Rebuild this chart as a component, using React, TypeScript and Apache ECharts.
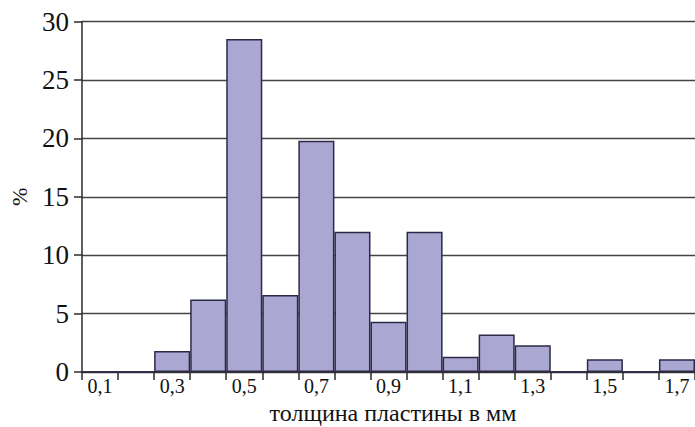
import React, { useEffect, useRef } from "react";
import * as echarts from "echarts";

const categories = ["0,1", "0,2", "0,3", "0,4", "0,5", "0,6", "0,7", "0,8", "0,9", "1,0", "1,1", "1,2", "1,3", "1,4", "1,5", "1,6", "1,7"];
const percentValues = [0, 0, 1.8, 6.2, 28.5, 6.6, 19.8, 12, 4.3, 12, 1.3, 3.2, 2.3, 0, 1.1, 0, 1.1];
const yTicks = [0, 5, 10, 15, 20, 25, 30];
const xTitle = "толщина пластины в мм";
const yTitle = "%";

const FONT = "Liberation Serif";

export default function App() {
  const ref = useRef<HTMLDivElement>(null);
  useEffect(() => {
    if (!ref.current) return;
    const chart = echarts.init(ref.current, undefined, { renderer: "svg" });
    chart.setOption({
      animation: false,
      backgroundColor: "#ffffff",
      textStyle: { fontFamily: FONT },
      grid: { left: 80, right: 0, top: 21.5, bottom: 55, containLabel: false },
      xAxis: {
        type: "category",
        data: categories,
        boundaryGap: true,
        axisLine: { show: true, lineStyle: { color: "#2a2a2a", width: 1.5 } },
        axisTick: { show: true, interval: 0, length: 8, inside: false, lineStyle: { color: "#2a2a2a", width: 1.5 } },
        axisLabel: { interval: 1, margin: 4, color: "#111", fontSize: 20, fontFamily: FONT },
        splitLine: { show: false },
      },
      yAxis: {
        type: "value",
        min: yTicks[0],
        max: yTicks[yTicks.length - 1],
        interval: 5,
        name: yTitle,
        nameLocation: "middle",
        nameRotate: 90,
        nameGap: 52,
        nameTextStyle: { color: "#111", fontSize: 22, fontFamily: FONT },
        axisLine: { show: true, lineStyle: { color: "#2a2a2a", width: 1.5 } },
        axisTick: { show: true, length: 8, lineStyle: { color: "#2a2a2a", width: 1.5 } },
        axisLabel: { margin: 13, color: "#111", fontSize: 27, fontFamily: FONT },
        splitLine: { show: true, lineStyle: { color: "#444", width: 1.4 } },
      },
      series: [
        {
          type: "bar",
          data: percentValues,
          barCategoryGap: "0%",
          itemStyle: { color: "#aaa7d2", borderColor: "#2c2a48", borderWidth: 1.5 },
        },
      ],
      graphic: [
        {
          type: "text",
          x: 393,
          y: 413,
          style: {
            text: xTitle,
            fill: "#111",
            fontSize: 24,
            fontFamily: FONT,
            textAlign: "center",
            textVerticalAlign: "middle",
          },
        },
      ],
    });
    return () => chart.dispose();
  }, []);
  return (
    <div
      ref={ref}
      style={{ position: "fixed", left: 0, top: 0, width: 695, height: 427, background: "#fff" }}
    />
  );
}
